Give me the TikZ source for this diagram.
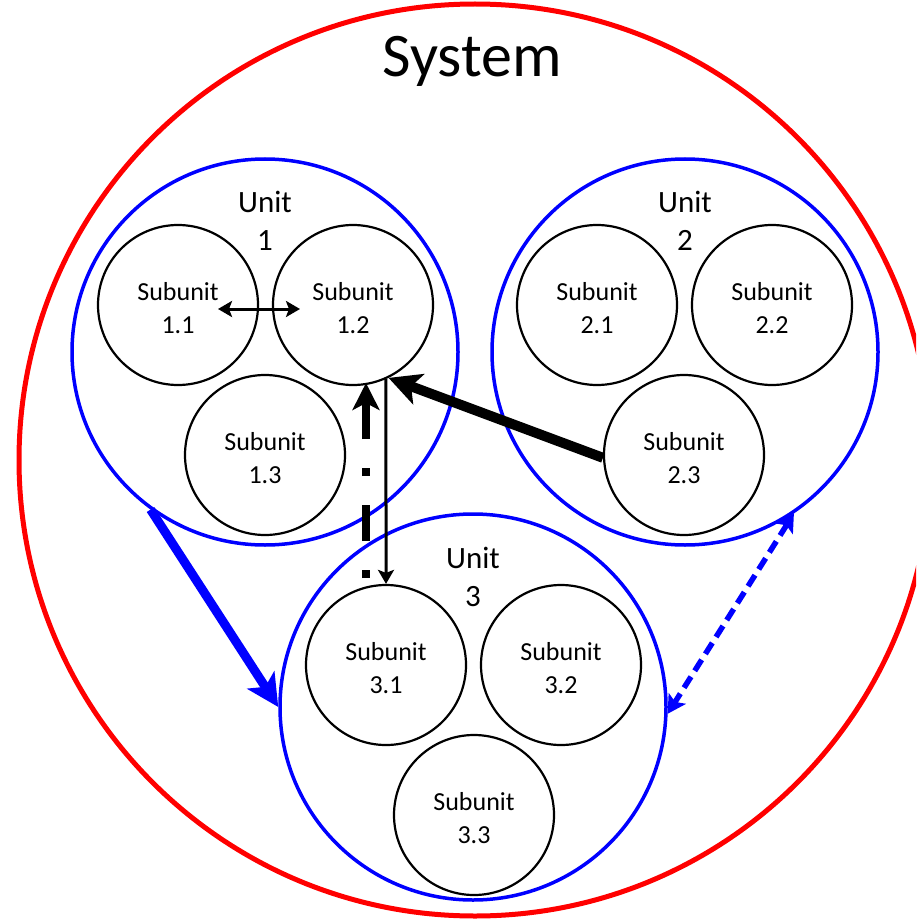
\documentclass[tikz,border=0pt]{standalone}
\usepackage{fontspec}
\setmainfont{Carlito}
\usetikzlibrary{arrows.meta}
\begin{document}
\begin{tikzpicture}[x=1pt,y=-1pt,
  syscirc/.style={circle, draw=red, line width=5pt, minimum size=912pt, inner sep=0pt},
  unitc/.style={circle, draw=blue, line width=3.5pt, minimum size=386pt, inner sep=0pt},
  subc/.style={circle, draw=black, line width=2.2pt, minimum size=160pt, inner sep=0pt},
  subtxt/.style={align=center, font=\fontsize{26}{33}\selectfont, inner sep=0pt, yshift=-3pt},
  unitlbl/.style={align=center, font=\fontsize{31}{38}\selectfont, inner sep=0pt},
  thinarrow/.style={line width=3pt, -{Stealth[length=14pt,width=16pt,inset=3pt]}},
  dblarrow/.style={line width=3pt, {Stealth[length=14pt,width=16pt,inset=3pt]}-{Stealth[length=14pt,width=16pt,inset=3pt]}},
  thickarrow/.style={line width=10pt, -{Stealth[length=32pt,width=32pt,inset=8pt]}},
  dasharrow/.style={line width=8pt, dash pattern=on 8pt off 29pt on 36pt off 29pt, -{Stealth[length=27pt,width=27pt,inset=7pt]}},
  bluearrow/.style={draw=blue, line width=9pt, -{Stealth[length=32pt,width=32pt,inset=8pt]}},
  bluedash/.style={draw=blue, line width=5.5pt, dash pattern=on 13pt off 7pt, {Stealth[length=18pt,width=20pt,inset=4pt]}-{Stealth[length=18pt,width=20pt,inset=4pt]}}
]
\useasboundingbox (0,0) rectangle (916,920);
\clip (0,0) rectangle (916,920);
\fill[white] (0,0) rectangle (916,920);
\node[syscirc] (sys) at (475,460) {};
\node[font=\fontsize{62}{70}\selectfont, inner sep=0pt] (systxt) at (472,61) {System};

\node[unitc] (u1) at (265,352) {};
\node[unitc] (u2) at (685,352) {};
\node[unitc] (u3) at (473,707) {};
\node[unitlbl] (u1l) at (265,221) {Unit\\1};
\node[unitlbl] (u2l) at (685,221) {Unit\\2};
\node[unitlbl] (u3l) at (473,577) {Unit\\3};

\node[subc] (s11) at (178,305) {};
\node[subc] (s12) at (353,305) {};
\node[subc] (s13) at (265,455) {};
\node[subc] (s21) at (597,305) {};
\node[subc] (s22) at (772,305) {};
\node[subc] (s23) at (684,455) {};
\node[subc] (s31) at (386,665) {};
\node[subc] (s32) at (561,665) {};
\node[subc] (s33) at (474,815) {};
\node[subtxt] (t11) at (s11.center) {Subunit\\1.1};
\node[subtxt] (t12) at (s12.center) {Subunit\\1.2};
\node[subtxt] (t13) at (s13.center) {Subunit\\1.3};
\node[subtxt] (t21) at (s21.center) {Subunit\\2.1};
\node[subtxt] (t22) at (s22.center) {Subunit\\2.2};
\node[subtxt] (t23) at (s23.center) {Subunit\\2.3};
\node[subtxt] (t31) at (s31.center) {Subunit\\3.1};
\node[subtxt] (t32) at (s32.center) {Subunit\\3.2};
\node[subtxt] (t33) at (s33.center) {Subunit\\3.3};

\coordinate (dl) at (218,309);
\coordinate (dr) at (300,309);
\coordinate (dd) at (366,578);
\coordinate (du) at (366,383);

\draw[dblarrow] (dl) -- (dr);
\draw[thinarrow] (s12.-66) -- (s31.north);
\draw[thickarrow] (s23.182) -- (s12.-64);
\draw[dasharrow] (dd) -- (du);
\draw[bluearrow] (u1.-126) -- (u3.west);
\draw[bluedash] (u2.-56) -- (u3.-2);
\end{tikzpicture}
\end{document}
